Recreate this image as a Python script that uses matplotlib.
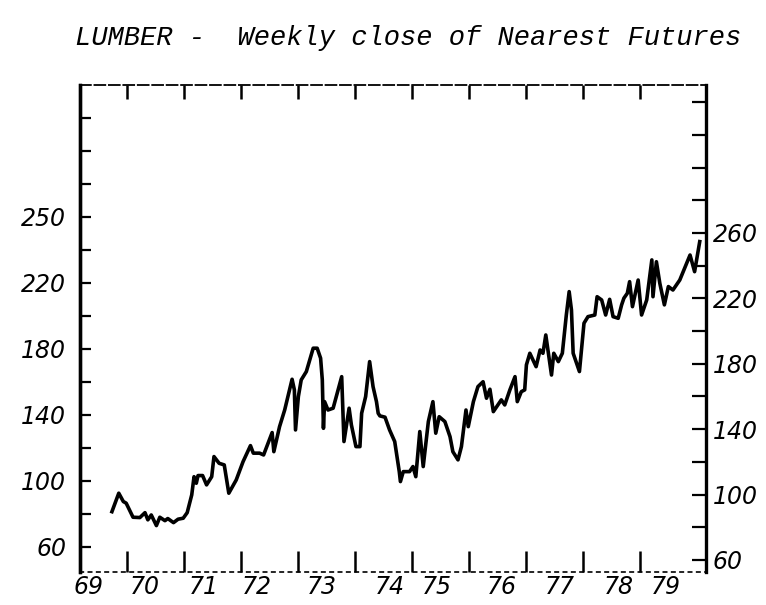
import matplotlib
matplotlib.use("Agg")
import matplotlib.pyplot as plt

# weekly close of nearest lumber futures
week = [1969.74, 1969.86, 1969.94, 1969.99, 1970.11, 1970.23, 1970.32, 1970.37, 1970.43, 1970.52,
        1970.58, 1970.67, 1970.72, 1970.82, 1970.90, 1970.99, 1971.06, 1971.14, 1971.18, 1971.22,
        1971.25, 1971.33, 1971.40, 1971.49, 1971.53, 1971.62, 1971.71, 1971.79, 1971.92, 1972.04,
        1972.17, 1972.22, 1972.33, 1972.40, 1972.55, 1972.58, 1972.68, 1972.77, 1972.90, 1972.94,
        1972.96, 1973.01, 1973.06, 1973.15, 1973.27, 1973.34, 1973.40, 1973.43, 1973.45, 1973.47,
        1973.53, 1973.62, 1973.77, 1973.81, 1973.90, 1973.94, 1974.02, 1974.09, 1974.12, 1974.19,
        1974.26, 1974.32, 1974.38, 1974.41, 1974.44, 1974.53, 1974.61, 1974.70, 1974.78, 1974.80,
        1974.85, 1974.96, 1975.02, 1975.07, 1975.14, 1975.20, 1975.29, 1975.37, 1975.42, 1975.48,
        1975.58, 1975.67, 1975.72, 1975.81, 1975.87, 1975.95, 1975.99, 1976.08, 1976.16, 1976.25,
        1976.31, 1976.37, 1976.43, 1976.51, 1976.57, 1976.63, 1976.72, 1976.81, 1976.85, 1976.92,
        1976.98, 1977.01, 1977.07, 1977.18, 1977.25, 1977.30, 1977.35, 1977.45, 1977.49, 1977.57,
        1977.64, 1977.71, 1977.76, 1977.80, 1977.83, 1977.94, 1978.02, 1978.09, 1978.21, 1978.25,
        1978.33, 1978.40, 1978.47, 1978.53, 1978.62, 1978.68, 1978.72, 1978.78, 1978.82, 1978.87,
        1978.97, 1979.03, 1979.12, 1979.21, 1979.23, 1979.29, 1979.35, 1979.43, 1979.50, 1979.58,
        1979.70, 1979.76, 1979.88, 1979.96, 1980.05]
close = [89.5, 100.8, 95.7, 94.7, 86.1, 85.9, 88.9, 84.5, 87.5, 81.0,
         86.1, 84.0, 85.3, 82.8, 84.9, 85.5, 88.9, 99.8, 110.9, 106.9,
         111.6, 111.6, 105.9, 110.9, 123.2, 119.1, 118.1, 100.8, 108.9, 120.1,
         129.9, 125.3, 125.3, 124.2, 137.9, 126.2, 141.5, 151.7, 170.5, 164.0,
         139.5, 159.9, 170.1, 175.2, 189.5, 189.5, 183.4, 170.1, 140.5, 156.8,
         151.7, 152.8, 172.1, 132.4, 152.8, 142.6, 129.3, 129.3, 149.7, 159.9,
         181.3, 166.0, 156.8, 149.7, 148.1, 147.3, 139.5, 132.4, 114.0, 107.9,
         114.0, 114.0, 117.1, 110.9, 138.5, 117.1, 144.6, 156.8, 137.5, 147.6,
         144.6, 135.4, 126.2, 121.2, 129.3, 151.7, 141.5, 156.8, 166.0, 169.0,
         158.9, 164.4, 150.7, 154.8, 157.9, 154.8, 164.0, 172.1, 156.8, 162.9,
         164.0, 179.3, 186.4, 178.2, 188.4, 186.4, 197.6, 173.1, 186.4, 181.3,
         186.4, 209.8, 224.1, 212.9, 186.4, 175.2, 204.8, 208.8, 209.8, 221.0,
         219.0, 209.8, 219.4, 208.8, 207.8, 216.0, 220.1, 223.1, 230.2, 214.9,
         231.2, 209.8, 219.0, 243.5, 221.0, 242.4, 229.2, 216.0, 227.2, 225.1,
         231.2, 236.3, 246.5, 236.3, 254.7]

year_labels = ['69', '70', '71', '72', '73', '74', '75', '76', '77', '78', '79']
year_label_x = [1969.33, 1970.32, 1971.35, 1972.28, 1973.42, 1974.61, 1975.44,
                1976.58, 1977.60, 1978.63, 1979.46]
year_ticks = [1970, 1971, 1972, 1973, 1974, 1975, 1976, 1977, 1978, 1979]

right_ticks = [60, 100, 140, 180, 220, 260]
right_minor = [80, 120, 160, 200, 240, 280, 300, 320, 340]
left_ticks = [60, 100, 140, 180, 220, 260]
left_labels = ['60', '100', '140', '180', '220', '250']
left_minor = [80, 120, 160, 200, 240, 280, 300, 320, 340]


# the left scale on the original is drawn slightly off the right one
def to_left(r):
    return 60 + ((r - 60) * 1.635 - 13) / 1.65


def to_right(l):
    return 60 + ((l - 60) * 1.65 + 13) / 1.635


lab_font = dict(family='DejaVu Sans', style='italic', size=17)

fig = plt.figure(figsize=(7.66, 6.05), dpi=100)
ax = fig.add_axes([80 / 766, 1 - 572 / 605, 626 / 766, 487 / 605])
ax.plot(week, close, color='black', lw=2.6)
ax.set_xlim(1969.18, 1980.16)
ax.set_ylim(52.6, 350.5)

for side in ['left', 'right']:
    ax.spines[side].set_linewidth(2.4)
ax.spines['top'].set_linewidth(1.3)
ax.spines['top'].set_linestyle((0, (6, 2)))
ax.spines['bottom'].set_linewidth(1.2)
ax.spines['bottom'].set_linestyle((0, (2, 3)))

# right scale
ax.yaxis.tick_right()
ax.set_yticks(right_ticks)
ax.set_yticks(right_minor, minor=True)
ax.set_yticklabels([str(v) for v in right_ticks], fontdict=lab_font)
ax.tick_params(axis='y', which='both', direction='in', length=10, width=1.6, pad=5)

# left scale
sec = ax.secondary_yaxis('left', functions=(to_left, to_right))
sec.set_yticks(left_ticks)
sec.set_yticks(left_minor, minor=True)
sec.set_yticklabels(left_labels, fontdict=lab_font)
sec.tick_params(axis='y', which='both', direction='in', length=8, width=1.6, pad=10)
sec.spines['left'].set_linewidth(2.4)

# year ticks, bottom and top
ax.set_xticks(year_ticks)
ax.set_xticklabels([])
ax.tick_params(axis='x', direction='in', length=15, width=1.8)
top = ax.secondary_xaxis('top')
top.set_xticks(year_ticks)
top.set_xticklabels([])
top.tick_params(axis='x', direction='in', length=10, width=1.8)
top.spines['top'].set_visible(False)

for x, lab in zip(year_label_x, year_labels):
    ax.text(x, -0.03, lab, transform=ax.get_xaxis_transform(),
            ha='center', va='center', fontfamily='DejaVu Sans', fontstyle='italic', fontsize=17)

fig.text(408 / 766, 1 - 38 / 605, 'LUMBER -  Weekly close of Nearest Futures',
         ha='center', va='center', family='Liberation Mono', style='italic', size=19.5)

fig.savefig('out.png', dpi=100)
